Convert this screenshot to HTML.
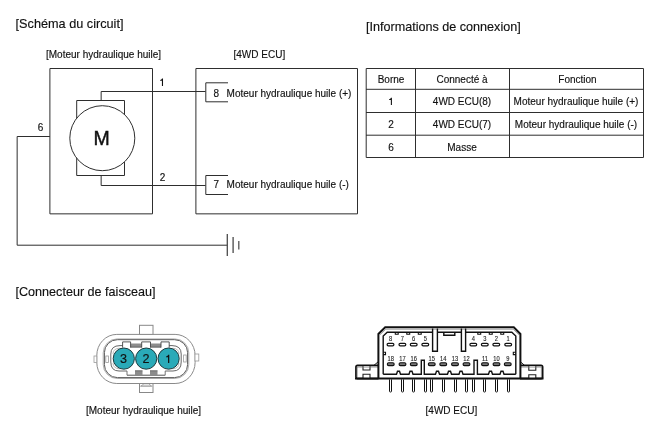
<!DOCTYPE html>
<html><head><meta charset="utf-8">
<style>
html,body{margin:0;padding:0;background:#fff;}
body{width:660px;height:434px;overflow:hidden;position:relative;}
svg{position:absolute;left:0;top:0;will-change:transform;}
text{font-family:"Liberation Sans",sans-serif;fill:#111;stroke:#111;stroke-width:0.15px;}
.el{font-size:7px;fill:#222;stroke:#222;stroke-width:0.12px;text-anchor:middle;}
</style></head><body>
<svg width="660" height="434" viewBox="0 0 660 434">
<g fill="none" stroke="#2e2e2e" stroke-width="1">
  <!-- motor outer box -->
  <path d="M49.9,68.5 H152.5 V213.85 H49.9 Z"/>
  <!-- motor rect -->
  <path d="M76.7,100.5 H124.5 V175.5 H76.7 Z"/>
  <circle cx="102.3" cy="138.2" r="32.5" fill="#fff"/>
  <!-- wires -->
  <polyline points="101.15,100.5 101.15,91.5 205.5,91.5"/>
  <polyline points="101.15,175.5 101.15,185.5 205.5,185.5"/>
  <polyline points="49.9,136.5 17.15,136.5 17.15,245.2 227.5,245.2"/>
  <line x1="227.3" y1="234" x2="227.3" y2="256" stroke="#4a4a4a" stroke-width="1.3"/>
  <line x1="233.1" y1="237" x2="233.1" y2="253" stroke="#4a4a4a" stroke-width="1.3"/>
  <line x1="238.8" y1="241" x2="238.8" y2="249.5" stroke="#555" stroke-width="1.3"/>
  <!-- ECU box -->
  <path d="M195.9,68.5 H357.5 V213.85 H195.9 Z"/>
  <polyline points="228,82.8 205.8,82.8 205.8,101.8 228,101.8"/>
  <polyline points="228,175.5 205.8,175.5 205.8,194.5 228,194.5"/>
  <!-- table -->
  <path d="M366.2,68.5 H643.5 V157.5 H366.2 Z"/>
  <line x1="366" y1="89.3" x2="644" y2="89.3"/>
  <line x1="366" y1="112.5" x2="644" y2="112.5"/>
  <line x1="366" y1="135.2" x2="644" y2="135.2"/>
  <line x1="415.5" y1="68" x2="415.5" y2="158"/>
  <line x1="509.5" y1="68" x2="509.5" y2="158"/>
</g>
<g>
  <text x="15.6" y="28.4" font-size="12.7">[Schéma du circuit]</text>
  <text x="366" y="31.3" font-size="12.6">[Informations de connexion]</text>
  <text x="46" y="57.8" font-size="10">[Moteur hydraulique huile]</text>
  <text x="233.5" y="57.8" font-size="10">[4WD ECU]</text>
  <path d="M345,0 H240 V490 H70 V565 Q215,575 250,709 H345 Z" transform="translate(159.4,85.9) scale(0.0105,-0.0105)" fill="#111"/>
  <text x="159.8" y="181" font-size="10">2</text>
  <text x="37.7" y="131" font-size="10">6</text>
  <text x="101.7" y="145.4" font-size="19.5" text-anchor="middle" style="stroke-width:0.45px">M</text>
  <text x="213.5" y="97.2" font-size="10">8</text>
  <text x="226.6" y="97.2" font-size="10">Moteur hydraulique huile (+)</text>
  <text x="213.5" y="188.4" font-size="10">7</text>
  <text x="226.6" y="188.4" font-size="10">Moteur hydraulique huile (-)</text>
  <!-- table text -->
  <g font-size="10" text-anchor="middle">
    <text x="391" y="82.8">Borne</text>
    <text x="462" y="82.8">Connecté à</text>
    <text x="577.5" y="82.8">Fonction</text>
    </g><path d="M345,0 H240 V490 H70 V565 Q215,575 250,709 H345 Z" transform="translate(388.4,105) scale(0.0102,-0.0102)" fill="#111"/><g font-size="10" text-anchor="middle">
    <text x="462" y="105.3">4WD ECU(8)</text>
    <text x="576" y="105.3">Moteur hydraulique huile (+)</text>
    <text x="391" y="128.3">2</text>
    <text x="462" y="128.3">4WD ECU(7)</text>
    <text x="576" y="128.3">Moteur hydraulique huile (-)</text>
    <text x="391" y="151.3">6</text>
    <text x="462" y="151.3">Masse</text>
  </g>
  <text x="15.5" y="296.3" font-size="12.6">[Connecteur de faisceau]</text>
  <text x="86" y="413.8" font-size="10">[Moteur hydraulique huile]</text>
  <text x="425.6" y="413.8" font-size="10">[4WD ECU]</text>
</g>
<!-- motor connector -->
<g fill="none">
  <rect x="139.5" y="325.3" width="13.5" height="9.2" fill="#fff" stroke="#888" stroke-width="1"/>
  <rect x="139.5" y="383.5" width="13.5" height="9" fill="#fff" stroke="#888" stroke-width="1"/>
  <path d="M141,386 L144,383.8 H148.5 L151.5,386 Z" stroke="#999" stroke-width="0.8"/>
  <line x1="140" y1="386.2" x2="152.5" y2="386.2" stroke="#999" stroke-width="0.8"/>
  <rect x="96.8" y="334.4" width="98.3" height="49.1" rx="20" ry="21" fill="#fff" stroke="#8a8a8a" stroke-width="1"/>
  <rect x="94" y="356" width="2.8" height="6.5" fill="#fff" stroke="#999" stroke-width="0.8"/>
  <rect x="195" y="354" width="3.8" height="7" fill="#fff" stroke="#999" stroke-width="0.8"/>
  <rect x="103.2" y="338.9" width="85.6" height="39.6" rx="14" ry="14" stroke="#a8a8a8" stroke-width="0.9"/>
  <rect x="104.4" y="339.7" width="83.2" height="37.9" rx="13" ry="13" stroke="#5a5a5a" stroke-width="1"/>
  <rect x="105.8" y="356" width="2.6" height="6.5" fill="#fff" stroke="#999" stroke-width="0.8"/>
  <rect x="183.6" y="355" width="2.6" height="7" fill="#fff" stroke="#999" stroke-width="0.8"/>
  <!-- cavity outline -->
  <path d="M122.6,345.6 H120 Q110.8,345.6 110.8,354 V362 Q110.8,371 119,371 H127 M165.2,371 H173 Q181.2,371 181.2,362 V354 Q181.2,345.6 172,345.6 H169.2" stroke="#666" stroke-width="1"/>
  <path d="M119.5,348.2 Q113,348.5 113,354 M113,363 Q113,368.5 119.5,368.8 M172.5,348.2 Q179,348.5 179,354 M179,363 Q179,368.5 172.5,368.8" stroke="#aaa" stroke-width="0.8"/>
  <!-- top band between tabs -->
  <path d="M130.6,345.6 H141.7 M150.5,345.6 H161" stroke="#8c8c8c" stroke-width="4"/>
  <path d="M130.6,347 H141.7 M150.5,347 H161" stroke="#6a6a6a" stroke-width="1.2"/>
  <path d="M122.6,347.6 V341.9 H130.6 V347.6 M141.7,347.6 V341.9 H150.5 V347.6 M161,347.6 V341.9 H169.2 V347.6" stroke="#444" stroke-width="0.9"/>
  <!-- bottom teeth -->
  <path d="M127,375.2 H165.2" stroke="#555" stroke-width="1"/>
  <path d="M135,373 H142.5 M150,373 H157.5" stroke="#8c8c8c" stroke-width="4.4"/>
  <path d="M127,371 V375.2 M135,370.8 H142.5 M150,370.8 H157.5 M165.2,371 V375.2" stroke="#666" stroke-width="0.9"/>
  <g stroke="#1c3a3e" stroke-width="1" fill="#2aaab8">
    <circle cx="123.8" cy="358.6" r="10.6"/>
    <circle cx="146.2" cy="358.6" r="10.6"/>
    <circle cx="168.6" cy="358.6" r="10.6"/>
  </g>
</g>
<g font-size="12.6" text-anchor="middle">
  <text x="123.4" y="363.3">3</text>
  <text x="146" y="363.3">2</text>
  </g><path d="M345,0 H240 V490 H70 V565 Q215,575 250,709 H345 Z" transform="translate(165.2,363.1) scale(0.0118,-0.0118)" fill="#111"/><g font-size="12.6" text-anchor="middle">
</g>
<!-- ECU connector body -->
<g fill="none" stroke="#111">
  <!-- flanges -->
  <path d="M378.5,365.3 H357.5 Q356,365.3 356,367 V377 Q356,378.6 357.5,378.6 H378.5" stroke-width="1.8"/>
  <path d="M520,365.3 H541 Q542.6,365.3 542.6,367 V377 Q542.6,378.6 541,378.6 H520" stroke-width="1.8"/>
  <path d="M363,366 V370 H370 V366 M363,378 V374.3 H370 V378 M528.8,366 V370.2 H535.8 V366 M528.8,378 V374.8 H535.8 V378" stroke="#222" stroke-width="1.1" fill="#fff"/>
  <line x1="357.2" y1="366.5" x2="357.2" y2="377.5" stroke="#888" stroke-width="0.8"/>
  <line x1="541.4" y1="366.5" x2="541.4" y2="377.5" stroke="#888" stroke-width="0.8"/>
  <line x1="357" y1="367" x2="378" y2="367" stroke="#777" stroke-width="0.8"/>
  <line x1="521" y1="367" x2="542" y2="367" stroke="#777" stroke-width="0.8"/>
  <path d="M374,365.3 L378.5,361.5" stroke-width="1"/>
  <path d="M524.5,365.3 L520,361.5" stroke-width="1"/>
  <!-- outer body -->
  <path d="M378.4,379 V334 L385.2,327.3 H513.8 L520.4,334 V379" stroke-width="2"/>
  <path d="M380,334.8 L385.8,329.2 H513.2 L519,334.8" stroke="#999" stroke-width="0.9"/>
  <line x1="355" y1="378.5" x2="543.5" y2="378.5" stroke-width="2"/>
  <!-- inner frame -->
  <path d="M383.2,374.3 V336 L387.2,332.2 H432.8 M437.3,332.2 H461.3 M465.5,332.2 H511.8 L515.8,336 V374.3" stroke-width="1.4"/>
  <!-- inner bottom with bumps -->
  <path d="M383.2,374.3 H396.5 L397.5,371.3 H399.5 L400.5,374.3 H409 L410,371.3 H412 L413,374.3 H421.3 V360.3 H424.3 V374.3 H435.5 L436.5,371.3 H438.5 L439.5,374.3 H447.5 L448.5,371.3 H450.5 L451.5,374.3 H459 L460,371.3 H462 L463,374.3 H474 V360.3 H477.4 V374.3 H488.5 L489.5,371.3 H491.5 L492.5,374.3 H500 L501,371.3 H503 L504,374.3 H515.8" stroke-width="1.4"/>
  <!-- top partitions (open at top) -->
  <path d="M432.6,328.5 V351.3 H437.4 V328.5" stroke-width="1.4"/>
  <path d="M461.4,328.5 V351.3 H465.6 V328.5" stroke-width="1.4"/>
  <path d="M443.8,332.2 V335.3 H454.8 V332.2" stroke-width="1.4"/>
  <!-- top notches -->
  <path d="M395.3,332.2 V334.3 H398.2 V332.2 M406.8,332.2 V334.3 H409.7 V332.2 M418.3,332.2 V334.3 H421.2 V332.2 M477.8,332.2 V334.3 H480.7 V332.2 M489.3,332.2 V334.3 H492.2 V332.2 M500.8,332.2 V334.3 H503.7 V332.2" stroke-width="1.1"/>
  <!-- side notches -->
  <path d="M383.2,352.2 H385.5 V354.6 H383.2" stroke-width="1.1"/>
  <path d="M515.8,352.2 H513.3 V354.6 H515.8" stroke-width="1.1"/>
</g>
<g>
<rect x="387.10" y="343.3" width="6.8" height="2.5" rx="1.25" fill="#fff" stroke="#111" stroke-width="1.2"/>
<text transform="translate(390.50,341.3) scale(0.82,1)" class="el">8</text>
<rect x="399.00" y="343.3" width="6.8" height="2.5" rx="1.25" fill="#fff" stroke="#111" stroke-width="1.2"/>
<text transform="translate(402.40,341.3) scale(0.82,1)" class="el">7</text>
<rect x="410.30" y="343.3" width="6.8" height="2.5" rx="1.25" fill="#fff" stroke="#111" stroke-width="1.2"/>
<text transform="translate(413.70,341.3) scale(0.82,1)" class="el">6</text>
<rect x="421.90" y="343.3" width="6.8" height="2.5" rx="1.25" fill="#fff" stroke="#111" stroke-width="1.2"/>
<text transform="translate(425.30,341.3) scale(0.82,1)" class="el">5</text>
<rect x="469.90" y="343.3" width="6.8" height="2.5" rx="1.25" fill="#fff" stroke="#111" stroke-width="1.2"/>
<text transform="translate(473.30,341.3) scale(0.82,1)" class="el">4</text>
<rect x="481.40" y="343.3" width="6.8" height="2.5" rx="1.25" fill="#fff" stroke="#111" stroke-width="1.2"/>
<text transform="translate(484.80,341.3) scale(0.82,1)" class="el">3</text>
<rect x="492.90" y="343.3" width="6.8" height="2.5" rx="1.25" fill="#fff" stroke="#111" stroke-width="1.2"/>
<text transform="translate(496.30,341.3) scale(0.82,1)" class="el">2</text>
<rect x="504.80" y="343.3" width="6.8" height="2.5" rx="1.25" fill="#fff" stroke="#111" stroke-width="1.2"/>
<text transform="translate(508.20,341.3) scale(0.82,1)" class="el">1</text>
<rect x="387.35" y="362.8" width="6.8" height="2.8" rx="1.3" fill="#777" stroke="#111" stroke-width="1.1"/>
<text transform="translate(390.75,360.7) scale(0.82,1)" class="el">18</text>
<rect x="399.10" y="362.8" width="6.8" height="2.8" rx="1.3" fill="#777" stroke="#111" stroke-width="1.1"/>
<text transform="translate(402.50,360.7) scale(0.82,1)" class="el">17</text>
<rect x="410.35" y="362.8" width="6.8" height="2.8" rx="1.3" fill="#777" stroke="#111" stroke-width="1.1"/>
<text transform="translate(413.75,360.7) scale(0.82,1)" class="el">16</text>
<rect x="428.35" y="362.8" width="6.8" height="2.8" rx="1.3" fill="#777" stroke="#111" stroke-width="1.1"/>
<text transform="translate(431.75,360.7) scale(0.82,1)" class="el">15</text>
<rect x="439.85" y="362.8" width="6.8" height="2.8" rx="1.3" fill="#777" stroke="#111" stroke-width="1.1"/>
<text transform="translate(443.25,360.7) scale(0.82,1)" class="el">14</text>
<rect x="451.60" y="362.8" width="6.8" height="2.8" rx="1.3" fill="#777" stroke="#111" stroke-width="1.1"/>
<text transform="translate(455.00,360.7) scale(0.82,1)" class="el">13</text>
<rect x="463.10" y="362.8" width="6.8" height="2.8" rx="1.3" fill="#777" stroke="#111" stroke-width="1.1"/>
<text transform="translate(466.50,360.7) scale(0.82,1)" class="el">12</text>
<rect x="481.60" y="362.8" width="6.8" height="2.8" rx="1.3" fill="#777" stroke="#111" stroke-width="1.1"/>
<text transform="translate(485.00,360.7) scale(0.82,1)" class="el">11</text>
<rect x="493.10" y="362.8" width="6.8" height="2.8" rx="1.3" fill="#777" stroke="#111" stroke-width="1.1"/>
<text transform="translate(496.50,360.7) scale(0.82,1)" class="el">10</text>
<rect x="504.35" y="362.8" width="6.8" height="2.8" rx="1.3" fill="#777" stroke="#111" stroke-width="1.1"/>
<text transform="translate(507.75,360.7) scale(0.82,1)" class="el">9</text>
<rect x="389.5" y="379" width="2" height="13" rx="0.8" fill="#fff" stroke="#111" stroke-width="1"/>
<rect x="401.5" y="379" width="2" height="13" rx="0.8" fill="#fff" stroke="#111" stroke-width="1"/>
<rect x="412.5" y="379" width="2" height="13" rx="0.8" fill="#fff" stroke="#111" stroke-width="1"/>
<rect x="424.5" y="379" width="2" height="13" rx="0.8" fill="#fff" stroke="#111" stroke-width="1"/>
<rect x="430.5" y="379" width="2" height="13" rx="0.8" fill="#fff" stroke="#111" stroke-width="1"/>
<rect x="442.5" y="379" width="2" height="13" rx="0.8" fill="#fff" stroke="#111" stroke-width="1"/>
<rect x="454.5" y="379" width="2" height="13" rx="0.8" fill="#fff" stroke="#111" stroke-width="1"/>
<rect x="465.5" y="379" width="2" height="13" rx="0.8" fill="#fff" stroke="#111" stroke-width="1"/>
<rect x="472.5" y="379" width="2" height="13" rx="0.8" fill="#fff" stroke="#111" stroke-width="1"/>
<rect x="483.5" y="379" width="2" height="13" rx="0.8" fill="#fff" stroke="#111" stroke-width="1"/>
<rect x="495.5" y="379" width="2" height="13" rx="0.8" fill="#fff" stroke="#111" stroke-width="1"/>
<rect x="507.5" y="379" width="2" height="13" rx="0.8" fill="#fff" stroke="#111" stroke-width="1"/>
</g>
</svg>
</body></html>
